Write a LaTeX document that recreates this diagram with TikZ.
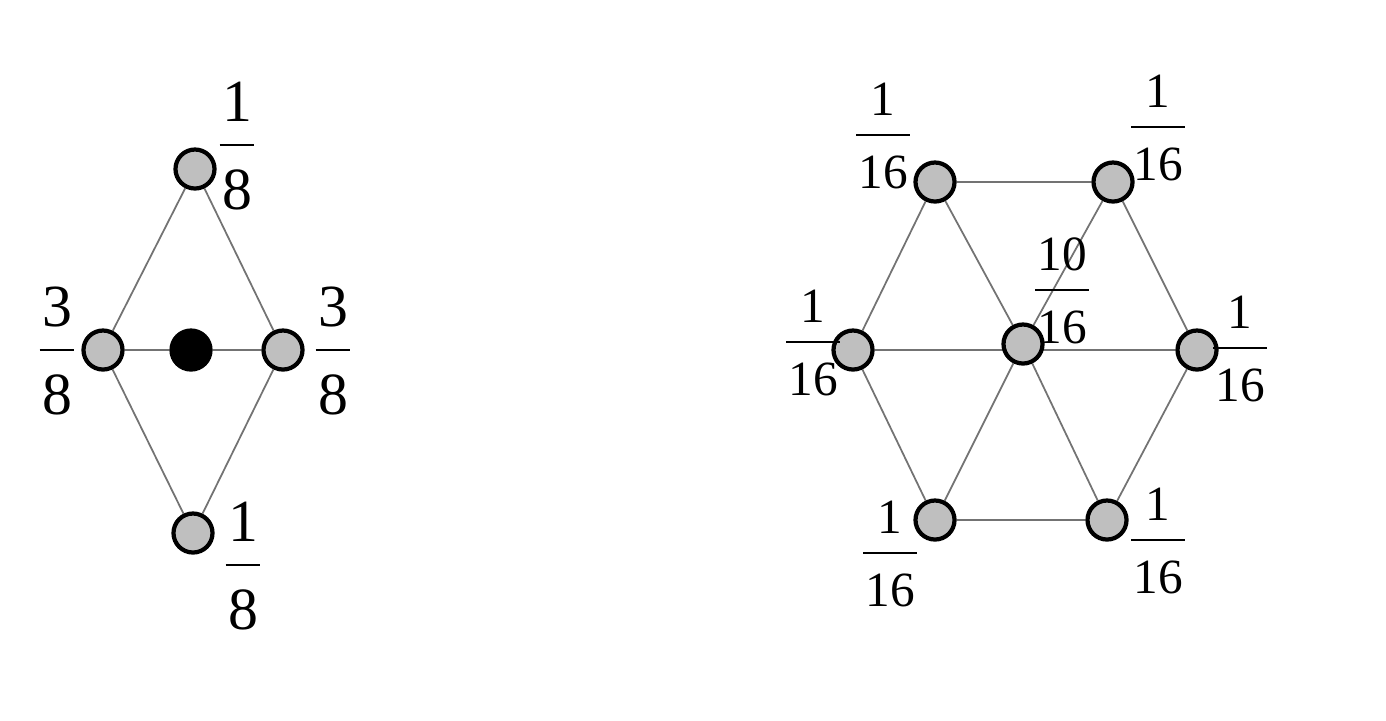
\documentclass[tikz,border=0pt]{standalone}
\usepackage{fontspec}
\setmainfont{Liberation Serif}
\usetikzlibrary{backgrounds}
\setlength{\arrayrulewidth}{.7pt}
\newcommand{\frc}[2]{\begin{tabular}{@{\kern.04em}c@{\kern.04em}}\rule[-.38em]{0pt}{1.436em}#1\\\hline\rule[-.38em]{0pt}{1.436em}#2\end{tabular}}

\begin{document}
\begin{tikzpicture}[x=.01cm,y=-.01cm,
  site/.style={circle,draw=black,line width=1.2pt,fill=black!25,minimum size=.39cm,inner sep=0pt},
  hub/.style={site,fill=black},
  bigfrac/.style={inner sep=0pt,font=\fontsize{17}{20.4}\selectfont},
  smallfrac/.style={inner sep=0pt,font=\fontsize{14}{16.8}\selectfont},
  edge/.style={draw=black!55,line width=.5pt}]
\useasboundingbox (0,0) rectangle (1386,720);
% left stencil
\node[site] (t) at (195,169) {};
\node[site] (l) at (103,350) {};
\node[hub] (c) at (191,350) {};
\node[site] (r) at (283,350) {};
\node[site] (b) at (193,533) {};
\node[bigfrac] (tlab) at (237,145) {\frc{1}{8}};
\node[bigfrac] (llab) at (57,350) {\frc{3}{8}};
\node[bigfrac] (rlab) at (333,350) {\frc{3}{8}};
\node[bigfrac] (blab) at (243,565) {\frc{1}{8}};
% right stencil
\node[site] (ntl) at (935,182) {};
\node[site] (ntr) at (1113,182) {};
\node[site] (nml) at (853,350) {};
\node[site] (nmc) at (1023,344) {};
\node[site] (nmr) at (1197,350) {};
\node[site] (nbl) at (935,520) {};
\node[site] (nbr) at (1107,520) {};
\node[smallfrac] (ltl) at (883,135) {\frc{1}{16}};
\node[smallfrac] (ltr) at (1158,127) {\frc{1}{16}};
\node[smallfrac] (lmc) at (1062,290) {\frc{10}{16}};
\node[smallfrac] (lml) at (813,342) {\frc{1}{16}};
\node[smallfrac] (lmr) at (1240,348) {\frc{1}{16}};
\node[smallfrac] (lbl) at (890,553) {\frc{1}{16}};
\node[smallfrac] (lbr) at (1158,540) {\frc{1}{16}};
\begin{scope}[on background layer]
\draw[edge] (t) -- (l) (t) -- (r) (l) -- (c) -- (r) (l) -- (b) (r) -- (b);
\draw[edge] (ntl) -- (ntr) (ntl) -- (nml) (ntl) -- (nmc) (ntr) -- (nmc) (ntr) -- (nmr);
\draw[edge] (nml) -- (nmr) (nml) -- (nbl) (nmc) -- (nbl) (nmc) -- (nbr) (nmr) -- (nbr) (nbl) -- (nbr);
\end{scope}
\end{tikzpicture}
\end{document}
